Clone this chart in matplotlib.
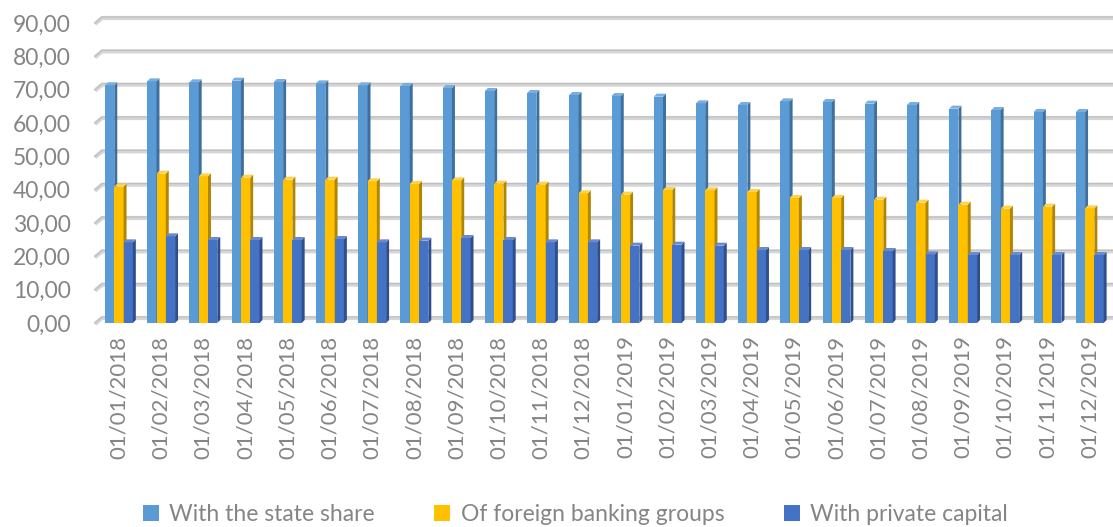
import matplotlib.pyplot as plt
import numpy as np

dates = ['01/01/2018', '01/02/2018', '01/03/2018', '01/04/2018', '01/05/2018', '01/06/2018',
         '01/07/2018', '01/08/2018', '01/09/2018', '01/10/2018', '01/11/2018', '01/12/2018',
         '01/01/2019', '01/02/2019', '01/03/2019', '01/04/2019', '01/05/2019', '01/06/2019',
         '01/07/2019', '01/08/2019', '01/09/2019', '01/10/2019', '01/11/2019', '01/12/2019']

state_share = [71.3, 72.5, 72.2, 72.7, 72.3, 71.9, 71.3, 71.1, 70.5, 69.6, 69.0, 68.4,
               68.1, 67.9, 65.9, 65.4, 66.5, 66.3, 65.8, 65.4, 64.3, 63.9, 63.3, 63.3]
foreign_groups = [40.9, 44.8, 44.0, 43.6, 43.0, 43.0, 42.5, 41.7, 42.8, 41.8, 41.5, 38.9,
                  38.5, 39.9, 39.8, 39.3, 37.5, 37.5, 37.0, 36.1, 35.5, 34.3, 34.9, 34.4]
private_capital = [24.2, 26.0, 24.9, 24.9, 24.9, 25.2, 24.2, 24.7, 25.5, 24.9, 24.2, 24.2,
                   23.2, 23.5, 23.2, 21.9, 21.9, 21.9, 21.6, 20.6, 20.4, 20.4, 20.4, 20.4]

series_names = ['With the state share', 'Of foreign banking groups', 'With private capital']
yticks = [0, 10, 20, 30, 40, 50, 60, 70, 80, 90]

front = ['#5b9bd5', '#ffc000', '#4472c4']
side = ['#3f6f9c', '#b08600', '#2f4f8c']
top = ['#79aee0', '#ffd24d', '#6a8ad0']
text_grey = '#858585'
font = 'Lato'

fig = plt.figure(figsize=(11.13, 5.27), dpi=100)
ax = fig.add_axes([97 / 1113, 204 / 527, 1013 / 1113, 300 / 527])
xl, xr = -0.52, 23.48
ax.set_xlim(xl, xr)
ax.set_ylim(0, 90)

# back-wall gridlines with the slanted side-wall piece
for v in yticks:
    ax.plot([xl - 0.05, xl + 0.12, xr + 0.1], [v - 0.3, v + 1.5, v + 1.5],
            color='#d6d6d6', lw=3, clip_on=False, zorder=1, solid_capstyle='butt')
    ax.plot([xl - 0.05, xl + 0.12, xr + 0.1], [v - 0.1, v + 1.8, v + 1.8],
            color='#bdbdbd', lw=0.8, clip_on=False, zorder=1)

x = np.arange(len(dates))
width = 0.22
offsets = [-0.22, 0.0, 0.22]
dx, dy = 0.07, 0.9
for i, (vals, off, name) in enumerate(zip([state_share, foreign_groups, private_capital],
                                          offsets, series_names)):
    xs = x + off
    z = 3 + i
    ax.bar(xs, vals, width, color=front[i], zorder=z, label=name, lw=0)
    for xi, v in zip(xs, vals):
        l, r = xi - width / 2, xi + width / 2
        ax.fill([r, r + dx, r + dx, r], [0, dy, v + dy, v], color=side[i], zorder=z, lw=0)
        ax.fill([l, l + dx, r + dx, r], [v, v + dy, v + dy, v], color=top[i], zorder=z, lw=0)

for s in ax.spines.values():
    s.set_visible(False)

ax.set_xticks(x)
ax.set_xticklabels(dates, rotation=90, fontsize=16, color=text_grey, family=font)
ax.set_yticks(yticks)
ax.set_yticklabels([f'{v:.2f}'.replace('.', ',') for v in yticks],
                   fontsize=16.5, color=text_grey, family=font)
ax.tick_params(axis='x', length=0, pad=9)
ax.tick_params(axis='y', length=0, pad=19)

fig.legend(loc='center', bbox_to_anchor=(0.517, 0.024), ncol=3, frameon=False,
           handlelength=0.7, handleheight=0.7, handletextpad=0.45, columnspacing=2.6,
           prop={'family': font, 'size': 16.5}, labelcolor=text_grey)

fig.savefig('out.png', dpi=100)
